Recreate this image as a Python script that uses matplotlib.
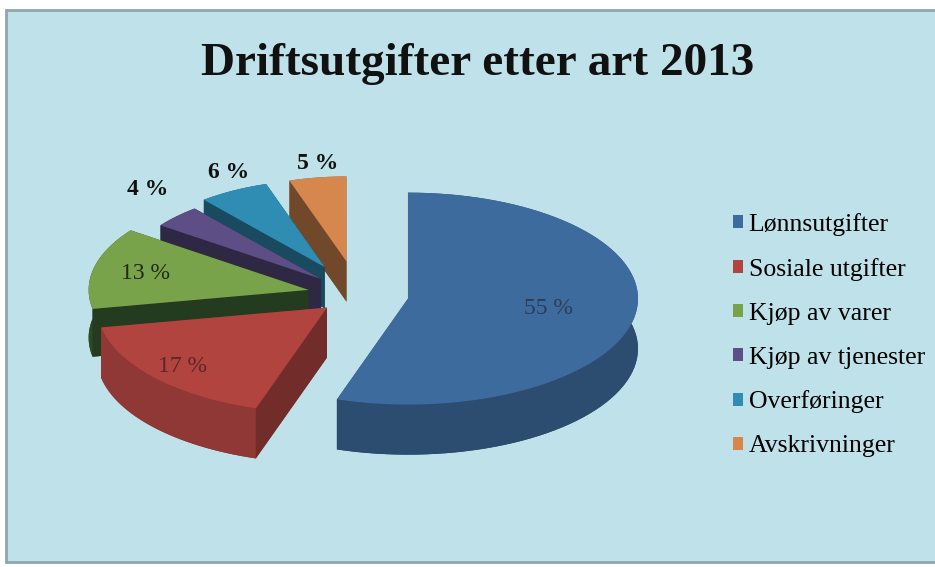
import numpy as np
import matplotlib.pyplot as plt
from matplotlib.patches import Polygon, Patch, Rectangle

# Data
categories = ['Lønnsutgifter', 'Sosiale utgifter', 'Kjøp av varer',
              'Kjøp av tjenester', 'Overføringer', 'Avskrivninger']
shares = [55, 17, 13, 4, 6, 5]
pct_labels = ['55 %', '17 %', '13 %', '4 %', '6 %', '5 %']

# Style
top_colors = ['#3e6b9e', '#b2443f', '#78a34a', '#5d4f85', '#2f8db4', '#d6874d']
side_colors = ['#2c4c70', '#8f3835', '#2c4a25', '#3a3256', '#1f5c78', '#8f5a36']
label_colors = ['#2a3d58', '#5a2626', '#1e2a14', '#111111', '#111111', '#111111']
explode = [0.22, 0.18, 0.22, 0.22, 0.3, 0.32]
label_pos = [0.62, 0.84, 0.76, 1.2, 1.05, 1.0]
inside = [True, True, True, False, False, False]

serif = ['Liberation Serif', 'DejaVu Serif']

fig = plt.figure(figsize=(9.35, 5.67), dpi=100)
ax = fig.add_axes([0, 0, 1, 1])
ax.set_xlim(0, 935)
ax.set_ylim(567, 0)
ax.axis('off')

# chart area background
ax.add_patch(Rectangle((6, 10), 935, 552, facecolor='#bfe1e9', edgecolor='#8fa6ad', lw=2))

cx, cy = 358, 295
rx, ry = 230, 106
depth = 50


def shade(c, f):
    c = np.array(plt.matplotlib.colors.to_rgb(c))
    return tuple(c * f)


def pt(vx, vy, r, a):
    return (vx + r * rx * np.cos(np.radians(a)), vy - r * ry * np.sin(np.radians(a)))


cum = np.concatenate([[0], np.cumsum(shares)])
starts = 90 - 360 * cum[:-1] / 100.0
ends = 90 - 360 * cum[1:] / 100.0
mids = (starts + ends) / 2

# draw back slices first
order = np.argsort(-np.sin(np.radians(mids)))
geo = {}
for i in order:
    a_s, a_e, m = starts[i], ends[i], mids[i]
    sc = 1 - 0.2 * max(0, np.sin(np.radians(m)))  # rough perspective
    vx = cx + explode[i] * rx * np.cos(np.radians(m))
    vy = cy - explode[i] * ry * np.sin(np.radians(m))
    d = depth * sc
    th = np.linspace(a_s, a_e, 80)
    arc = np.array([pt(vx, vy, sc, t) for t in th])
    top = np.vstack([[vx, vy], arc])
    low = top + [0, d]
    geo[i] = (vx, vy, sc)

    # radial faces, with sign telling whether they face the viewer
    faces = []
    for a, n_ang in ((a_s, a_s + 90), (a_e, a_e - 90)):
        p = np.array(pt(vx, vy, sc, a))
        quad = np.array([[vx, vy], p, p + [0, d], [vx, vy + d]])
        faces.append((np.sin(np.radians(n_ang)), quad))
    rim = np.vstack([arc, arc[::-1] + [0, d]])

    ax.add_patch(Polygon(low, closed=True, facecolor=shade(side_colors[i], 0.9), edgecolor='none'))
    for s, q in faces:
        if s >= 0:
            ax.add_patch(Polygon(q, closed=True, facecolor=shade(side_colors[i], 0.8), edgecolor='none'))
    ax.add_patch(Polygon(rim, closed=True, facecolor=side_colors[i], edgecolor='none'))
    for s, q in faces:
        if s < 0:
            ax.add_patch(Polygon(q, closed=True, facecolor=shade(side_colors[i], 0.8), edgecolor='none'))
    ax.add_patch(Polygon(top, closed=True, facecolor=top_colors[i], edgecolor='none'))

# percentage labels
for i in range(len(shares)):
    vx, vy, sc = geo[i]
    lx, ly = pt(vx, vy, sc * label_pos[i], mids[i])
    if not inside[i]:
        ly -= 14
    ax.text(lx, ly, pct_labels[i], ha='center', va='center', fontsize=17,
            family=serif, color=label_colors[i],
            weight='normal' if inside[i] else 'bold')

fig.text(0.511, 0.888, 'Driftsutgifter etter art 2013', ha='center', va='center',
         fontsize=34, family=serif, weight='bold', color='#111111')

handles = [Patch(facecolor=top_colors[i], edgecolor='none', label=categories[i])
           for i in range(len(categories))]
fig.legend(handles=handles, loc='upper left', bbox_to_anchor=(710 / 935, 1 - 190 / 567),
           frameon=False, handlelength=0.4, handleheight=0.4, handletextpad=0.2,
           labelspacing=0.85, prop={'family': serif, 'size': 18.5})

fig.savefig('out.png', dpi=100)
